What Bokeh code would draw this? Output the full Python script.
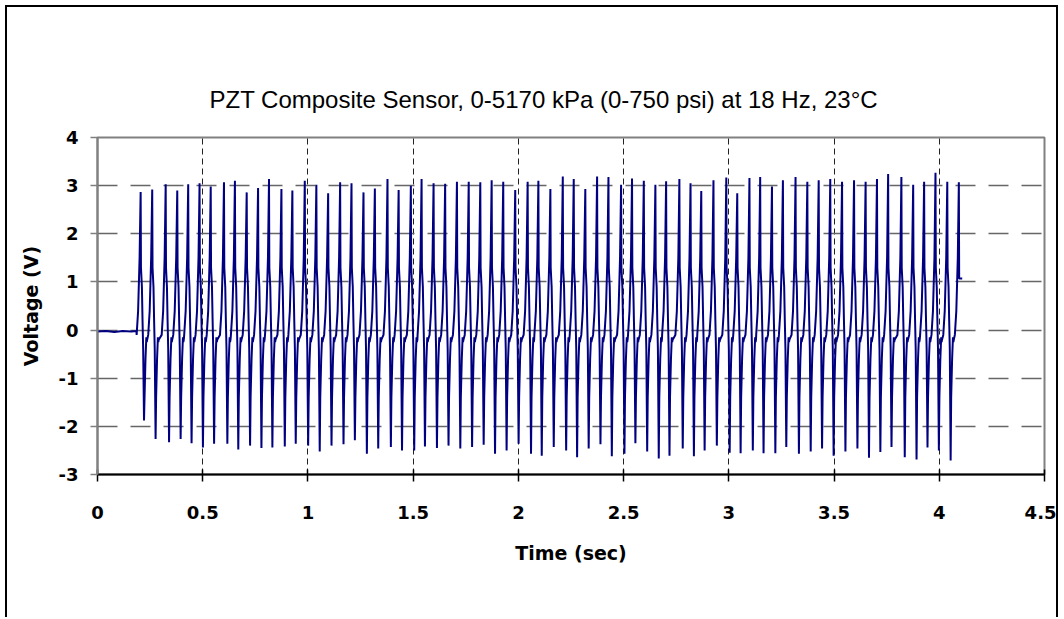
from bokeh.plotting import figure
from bokeh.models import FixedTicker, ColumnDataSource
from bokeh.embed import file_html
from bokeh.resources import INLINE

title_text = "PZT Composite Sensor, 0-5170 kPa (0-750 psi) at 18 Hz, 23\u00b0C"
x_label = "Time (sec)"
y_label = "Voltage (V)"
x_ticks = [0, 0.5, 1, 1.5, 2, 2.5, 3, 3.5, 4, 4.5]
x_tick_labels = ["0", "0.5", "1", "1.5", "2", "2.5", "3", "3.5", "4", "4.5"]
y_ticks = [-3, -2, -1, 0, 1, 2, 3, 4]
y_tick_labels = ["-3", "-2", "-1", "0", "1", "2", "3", "4"]

# pre-trigger baseline (sec, V)
baseline_t = [0.0, 0.04, 0.08, 0.12, 0.16, 0.185]
baseline_v = [-0.03, -0.02, -0.04, -0.02, -0.03, -0.02]

# positive peaks (sec, V)
peak_t = [0.205, 0.260, 0.324, 0.379, 0.431, 0.485, 0.538, 0.601, 0.653, 0.709,
          0.763, 0.815, 0.874, 0.926, 0.985, 1.040, 1.096, 1.153, 1.207, 1.264,
          1.318, 1.378, 1.431, 1.489, 1.540, 1.597, 1.652, 1.708, 1.764, 1.819,
          1.873, 1.928, 1.985, 2.044, 2.095, 2.152, 2.211, 2.263, 2.318, 2.374,
          2.428, 2.488, 2.540, 2.596, 2.651, 2.702, 2.765, 2.818, 2.869, 2.927,
          2.988, 3.040, 3.098, 3.149, 3.205, 3.257, 3.317, 3.373, 3.427, 3.482,
          3.538, 3.595, 3.650, 3.704, 3.757, 3.820, 3.876, 3.928, 3.982, 4.038,
          4.093]
peak_v = [2.87, 2.92, 3.03, 2.90, 3.03, 3.05, 2.98, 3.07, 3.10, 2.86,
          2.95, 3.14, 2.93, 2.90, 3.10, 3.02, 2.84, 3.07, 3.05, 2.86,
          2.94, 3.14, 2.91, 3.00, 3.14, 3.05, 3.04, 3.08, 3.08, 3.07,
          3.11, 3.08, 2.91, 3.08, 3.10, 2.93, 3.19, 3.14, 2.93, 3.19,
          3.18, 3.02, 3.15, 3.10, 3.02, 3.09, 3.14, 3.05, 2.89, 3.11,
          3.17, 2.84, 3.16, 3.18, 2.98, 3.11, 3.18, 3.08, 3.11, 3.14,
          3.08, 3.11, 3.08, 3.14, 3.24, 3.18, 3.02, 3.08, 3.27, 3.08,
          3.07]
# negative peaks that follow each positive peak (V)
trough_v = [-1.88, -2.26, -2.33, -2.26, -2.35, -2.44, -2.36, -2.36, -2.48, -2.40,
            -2.45, -2.44, -2.42, -2.36, -2.40, -2.52, -2.40, -2.37, -2.29, -2.57,
            -2.46, -2.43, -2.50, -2.50, -2.42, -2.45, -2.40, -2.46, -2.43, -2.38,
            -2.57, -2.50, -2.36, -2.57, -2.61, -2.43, -2.50, -2.64, -2.46, -2.37,
            -2.62, -2.57, -2.35, -2.52, -2.67, -2.61, -2.46, -2.62, -2.50, -2.40,
            -2.55, -2.56, -2.50, -2.56, -2.56, -2.43, -2.57, -2.52, -2.46, -2.61,
            -2.52, -2.46, -2.65, -2.53, -2.43, -2.64, -2.69, -2.44, -2.50, -2.71]

# waveform shape around each pulse (offset sec, V)
rise_dt = [-0.019, -0.012, -0.005]
rise_v = [-0.10, 0.40, 1.50]
fall_dt = [0.0015, 0.006, 0.009, 0.012]
fall_v = [1.30, 0.90, 0.20, -0.40]
trough_dt = 0.016
recover_dt = [0.0185, 0.023, 0.027, 0.029, 0.031]
recover_v = [-1.40, -0.60, -0.15, -0.25, -0.20]
end_dt = [0.0015, 0.016]
end_v = [1.07, 1.07]

t = list(baseline_t)
v = list(baseline_v)
for i, (tp, pv) in enumerate(zip(peak_t, peak_v)):
    for d, lv in zip(rise_dt, rise_v):
        t.append(tp + d)
        v.append(lv)
    t.append(tp)
    v.append(pv)
    if i < len(trough_v):
        for d, lv in zip(fall_dt, fall_v):
            t.append(tp + d)
            v.append(lv)
        t.append(tp + trough_dt)
        v.append(trough_v[i])
        for d, lv in zip(recover_dt, recover_v):
            t.append(tp + d)
            v.append(lv)
    else:
        for d, lv in zip(end_dt, end_v):
            t.append(tp + d)
            v.append(lv)

src = ColumnDataSource(data=dict(t=t, v=v))

TITLE_FONT = "Liberation Sans"
FONT = "DejaVu Sans"

p = figure(width=1053, height=612, x_range=(0, 4.5), y_range=(-3, 4),
           output_backend="svg", toolbar_location=None,
           min_border_left=90, min_border_right=16, min_border_top=130,
           min_border_bottom=145)
p.styles = {"margin-left": "5px", "margin-top": "5px",
            "border-top": "2px solid black", "border-left": "2px solid black",
            "border-right": "2px solid black"}
p.background_fill_color = "white"
p.border_fill_color = "white"
p.outline_line_color = "#808080"
p.outline_line_width = 2

p.line("t", "v", source=src, line_color="#000080", line_width=2.0)

# title
p.title.text = title_text
p.title.text_font = TITLE_FONT
p.title.text_font_size = "24px"
p.title.text_font_style = "normal"
p.title.text_color = "black"
p.title.align = "left"
p.title.offset = 112
p.title.vertical_align = "bottom"
p.title.standoff = 49

# axes
p.xaxis.ticker = FixedTicker(ticks=x_ticks)
p.xaxis.major_label_overrides = {tk: lb for tk, lb in zip(x_ticks, x_tick_labels)}
p.yaxis.ticker = FixedTicker(ticks=y_ticks)
p.yaxis.major_label_overrides = {tk: lb for tk, lb in zip(y_ticks, y_tick_labels)}
for ax in (p.xaxis, p.yaxis):
    ax.major_label_text_font = FONT
    ax.major_label_text_font_style = "bold"
    ax.major_label_text_font_size = "18px"
    ax.major_label_text_color = "black"
    ax.axis_label_text_font = FONT
    ax.axis_label_text_font_style = "bold"
    ax.axis_label_text_font_size = "19px"
    ax.axis_label_text_color = "black"
    ax.minor_tick_line_color = None
    ax.axis_line_width = 2

p.xaxis.axis_label = x_label
p.yaxis.axis_label = y_label
p.xaxis.axis_line_color = "black"
p.xaxis.major_tick_line_color = "black"
p.xaxis.major_tick_line_width = 1.5
p.xaxis.major_tick_in = 5
p.xaxis.major_tick_out = 7
p.xaxis.major_label_standoff = 24
p.xaxis.axis_label_standoff = 20

p.yaxis.axis_line_color = "#808080"
p.yaxis.major_tick_line_color = "#808080"
p.yaxis.major_tick_line_width = 1.5
p.yaxis.major_tick_in = 0
p.yaxis.major_tick_out = 7
p.yaxis.major_label_standoff = 12
p.yaxis.axis_label_standoff = 14

# grids
p.xgrid.ticker = FixedTicker(ticks=x_ticks)
p.ygrid.ticker = FixedTicker(ticks=y_ticks)
p.xgrid.grid_line_color = "#222222"
p.xgrid.grid_line_width = 1
p.xgrid.grid_line_dash = "6 4"
p.ygrid.grid_line_color = "#666666"
p.ygrid.grid_line_width = 1.5
p.ygrid.grid_line_dash = "20 13"

open("out.html", "w").write(file_html(p, INLINE))
